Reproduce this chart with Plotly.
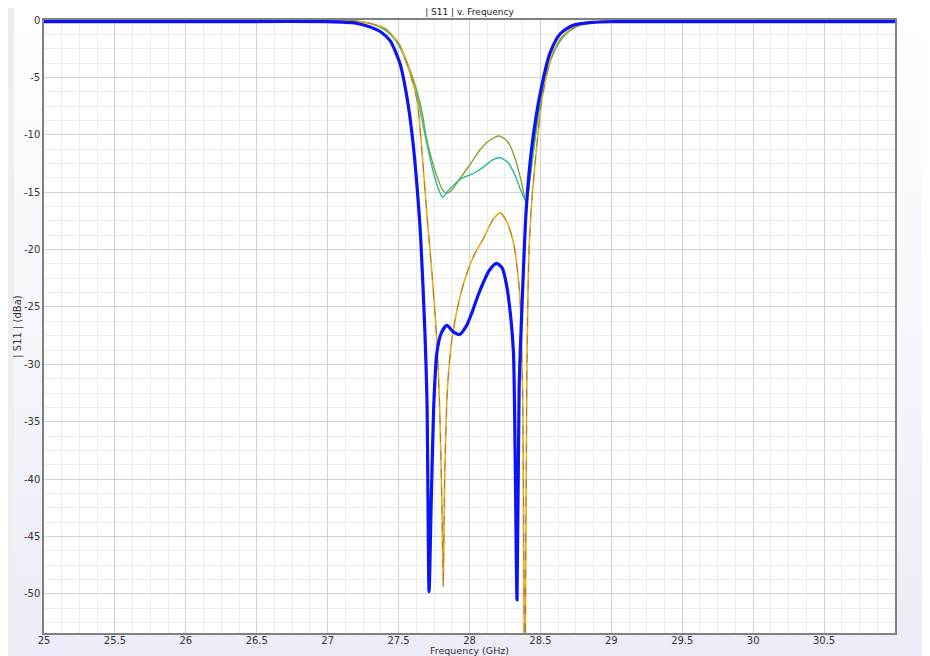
import plotly.graph_objects as go

# ---------------- data ----------------
blue_f = [25.0, 26.0, 27.0, 27.2, 27.3, 27.37, 27.44, 27.51, 27.56, 27.6, 27.63, 27.655,
          27.685, 27.70, 27.715, 27.73, 27.75, 27.77, 27.80, 27.84, 27.88, 27.93, 27.98,
          28.02, 28.06, 28.10, 28.14, 28.19, 28.23, 28.26, 28.29, 28.31, 28.335, 28.35,
          28.37, 28.40, 28.44, 28.50, 28.57, 28.64, 28.73, 28.87, 29.0, 30.0, 31.0]
blue_db = [-0.15, -0.15, -0.15, -0.28, -0.6, -1.0, -1.8, -3.8, -6.8, -10.5, -14.5, -18.8,
           -27.0, -33.0, -49.8, -42.0, -33.0, -29.0, -27.3, -26.6, -27.1, -27.4, -26.6,
           -25.4, -24.0, -22.8, -21.8, -21.2, -21.6, -23.0, -25.8, -29.0, -50.5, -32.0,
           -25.0, -16.5, -11.0, -6.3, -2.8, -1.2, -0.45, -0.2, -0.15, -0.15, -0.15]

gold_f = [25.0, 27.0, 27.2, 27.3, 27.4, 27.5, 27.57, 27.63, 27.665, 27.70, 27.735, 27.77,
          27.79, 27.805, 27.815, 27.825, 27.845, 27.875, 27.92, 27.98, 28.04, 28.10, 28.16,
          28.216, 28.26, 28.31, 28.34, 28.357, 28.375, 28.39, 28.405, 28.42, 28.44, 28.47,
          28.51, 28.56, 28.62, 28.70, 28.80, 28.90, 29.0, 31.0]
gold_db = [-0.02, -0.03, -0.1, -0.3, -0.7, -2.0, -4.2, -7.0, -11.5, -17.0, -22.0, -28.0,
           -34.0, -42.0, -49.4, -40.0, -32.0, -27.9, -24.8, -22.1, -20.3, -19.0, -17.5,
           -16.8, -17.5, -19.4, -22.0, -24.5, -33.0, -60.0, -30.0, -20.0, -15.7, -11.5,
           -7.0, -4.0, -2.0, -0.9, -0.35, -0.15, -0.05, -0.02]

olive_f = [25.0, 27.0, 27.2, 27.3, 27.39, 27.45, 27.51, 27.57, 27.63, 27.67, 27.69, 27.73,
           27.77, 27.81, 27.84, 27.87, 27.90, 27.94, 27.98, 28.02, 28.075, 28.14, 28.21,
           28.27, 28.32, 28.36, 28.40, 28.43, 28.46, 28.50, 28.55, 28.60, 28.67, 28.75,
           28.85, 29.0, 31.0]
olive_db = [-0.02, -0.03, -0.1, -0.3, -0.75, -1.3, -2.3, -4.0, -6.2, -8.3, -9.9, -12.0,
            -13.6, -14.8, -15.1, -14.9, -14.4, -13.7, -13.0, -12.3, -11.3, -10.5, -10.1,
            -10.6, -12.0, -13.8, -15.8, -13.5, -10.5, -7.0, -4.3, -2.6, -1.3, -0.6,
            -0.25, -0.08, -0.02]

teal_f = [25.0, 27.0, 27.2, 27.3, 27.39, 27.45, 27.51, 27.57, 27.63, 27.67, 27.70, 27.74,
          27.78, 27.81, 27.84, 27.88, 27.92, 27.96, 28.03, 28.10, 28.16, 28.215, 28.27,
          28.32, 28.36, 28.40, 28.43, 28.46, 28.50, 28.55, 28.60, 28.67, 28.75, 28.85,
          29.0, 31.0]
teal_db = [-0.02, -0.03, -0.1, -0.3, -0.75, -1.35, -2.4, -4.2, -6.6, -9.0, -10.8, -13.0,
           -14.7, -15.45, -15.0, -14.5, -14.0, -13.7, -13.35, -12.8, -12.2, -12.0, -12.4,
           -13.5, -14.8, -15.8, -13.4, -10.5, -7.2, -4.4, -2.7, -1.35, -0.6, -0.25,
           -0.08, -0.02]

x_ticks = [25, 25.5, 26, 26.5, 27, 27.5, 28, 28.5, 29, 29.5, 30, 30.5]
x_tick_text = ["25", "25.5", "26", "26.5", "27", "27.5", "28", "28.5", "29", "29.5", "30", "30.5"]
y_ticks = [0, -5, -10, -15, -20, -25, -30, -35, -40, -45, -50]
y_tick_text = ["0", "-5", "-10", "-15", "-20", "-25", "-30", "-35", "-40", "-45", "-50"]

# ---------------- figure ----------------
fig = go.Figure()

def add(xs, ys, color, width, dash="solid", smooth=0.7):
    fig.add_trace(go.Scatter(x=xs, y=ys, mode="lines",
                             line=dict(color=color, width=width, dash=dash,
                                       shape="spline", smoothing=smooth),
                             hoverinfo="skip", showlegend=False))

add(olive_f, olive_db, "#8d9d2c", 1.4)
add(teal_f, teal_db, "#22bf98", 1.4)
add(gold_f, gold_db, "#e6ad1e", 1.6)
add(gold_f, gold_db, "#9a6c3a", 0.8, "dash")
add(blue_f, blue_db, "#0a14f5", 3.2)

# page body has an 8px default margin: work in figure pixel coordinates
OFF = 8
W, H = 930 - OFF, 656 - OFF
L, R, T, B = 44 - OFF, 895 - OFF, 20 - OFF, 633 - OFF
pw, ph = R - L, B - T

def px_x(p):
    return (p - L) / pw

def px_y(p):
    return (B - p) / ph

shapes = []
n = 24
top_c = (255, 255, 255)
bot_c = (236, 236, 248)
y0p, y1p = 0, H
for i in range(n):
    a = y0p + (y1p - y0p) * i / n
    b = y0p + (y1p - y0p) * (i + 1) / n
    t = (i + 0.5) / n
    c = tuple(int(round(top_c[k] + (bot_c[k] - top_c[k]) * t)) for k in range(3))
    shapes.append(dict(type="rect", xref="paper", yref="paper",
                       x0=px_x(14 - OFF), x1=px_x(923 - OFF), y0=px_y(b + 0.5), y1=px_y(a),
                       fillcolor="rgb(%d,%d,%d)" % c, line=dict(width=0), layer="below"))
shapes.append(dict(type="rect", xref="paper", yref="paper", x0=0, x1=1, y0=0, y1=1,
                   fillcolor="white", line=dict(width=0), layer="below"))

fig.update_layout(
    width=W, height=H,
    margin=dict(l=L, r=W - R, t=T, b=H - B, pad=0, autoexpand=False),
    paper_bgcolor="#eeeeee",
    plot_bgcolor="white",
    font=dict(family="DejaVu Sans", size=10, color="#333333"),
    shapes=shapes,
    title=dict(text="| S11 | v. Frequency", x=0.5, xref="paper", xanchor="center",
               y=1 - (12 - OFF) / H, yanchor="middle", font=dict(size=9, color="#222222")),
    xaxis=dict(range=[25, 31], tickmode="array", tickvals=x_ticks, ticktext=x_tick_text,
               showgrid=True, gridcolor="#d2d2d2", gridwidth=1,
               minor=dict(dtick=0.125, showgrid=True, gridcolor="#ececec", gridwidth=1),
               showline=True, linecolor="#808080", linewidth=1.5, mirror=True,
               ticks="", zeroline=False, automargin=False, ticklabelstandoff=-3,
               title=dict(text="Frequency (GHz)", standoff=0, font=dict(size=9.5)),
               tickfont=dict(size=10)),
    yaxis=dict(range=[-53.4, 0], tickmode="array", tickvals=y_ticks, ticktext=y_tick_text,
               showgrid=True, gridcolor="#d2d2d2", gridwidth=1,
               minor=dict(dtick=1.25, showgrid=True, gridcolor="#ececec", gridwidth=1),
               showline=True, linecolor="#808080", linewidth=1.5, mirror=True,
               ticks="", zeroline=False, automargin=False,
               title=dict(text="| S11 | (dBa)", standoff=0, font=dict(size=10)),
               tickfont=dict(size=10)),
)

fig.write_html("out.html")
